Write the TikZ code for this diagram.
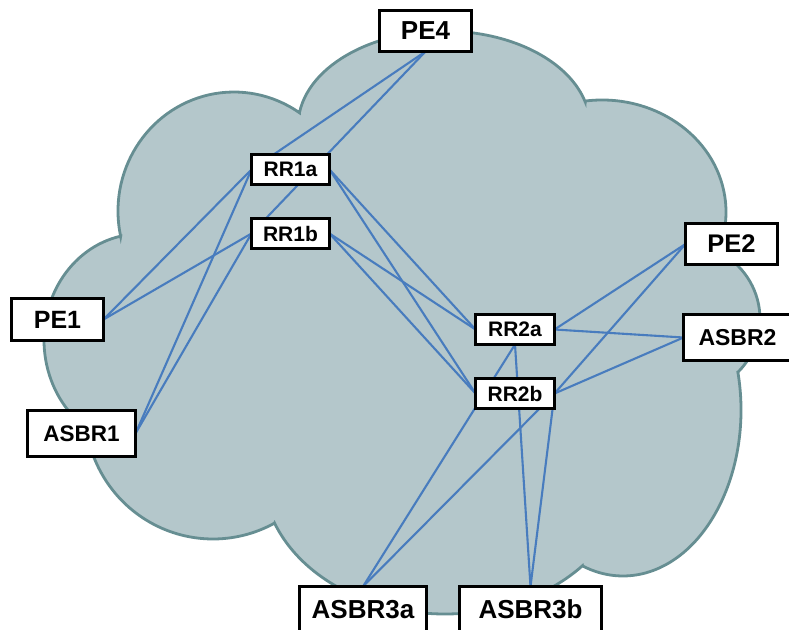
\documentclass[tikz,border=0pt]{standalone}
\usepackage{fontspec}
\setmainfont{Liberation Sans}
\usetikzlibrary{calc}
\pgfdeclarelayer{bg}
\pgfdeclarelayer{mid}
\pgfsetlayers{bg,mid,main}
\definecolor{cloudfill}{RGB}{180,199,203}
\definecolor{cloudline}{RGB}{102,142,146}
\definecolor{linkblue}{RGB}{72,124,190}
\tikzset{
  box/.style={draw=black, line width=2.7pt, fill=white, inner sep=0pt, outer sep=0pt},
  fs/.style={font=\bfseries\fontsize{#1}{#1}\selectfont},
  link/.style={draw=linkblue, line width=2.1pt},
  cloudshape/.style={fill=cloudfill, draw=cloudline, line width=2.8pt, line join=miter},
}
\begin{document}
\begin{tikzpicture}[x=1pt, y=-1pt]
\useasboundingbox (0,0) rectangle (789,629);

% nodes
\node[box, fs=26, minimum width=92pt, minimum height=41pt] (PE4) at (425.5,31) {PE4};
\node[box, fs=21, minimum width=78pt, minimum height=30pt] (RR1a) at (290.5,169.5) {RR1a};
\node[box, fs=21, minimum width=78pt, minimum height=30pt] (RR1b) at (290.5,233.5) {RR1b};
\node[box, fs=25.5, minimum width=92pt, minimum height=41pt] (PE2) at (731.5,244) {PE2};
\node[box, fs=25, minimum width=92pt, minimum height=42pt] (PE1) at (57.5,319.5) {PE1};
\node[box, fs=21, minimum width=79pt, minimum height=30pt] (RR2a) at (515,329.5) {RR2a};
\node[box, fs=23, minimum width=108pt, minimum height=46pt] (ASBR2) at (737.5,337.5) {ASBR2};
\node[box, fs=21, minimum width=79pt, minimum height=30pt] (RR2b) at (515,393.5) {RR2b};
\node[box, fs=22.5, minimum width=108pt, minimum height=46pt] (ASBR1) at (81.5,433.5) {ASBR1};
\node[box, fs=26, minimum width=127pt, minimum height=46pt] (ASBR3a) at (363,609.5) {ASBR3a};
\node[box, fs=26, minimum width=142pt, minimum height=46pt] (ASBR3b) at (530.5,609.5) {ASBR3b};

% cloud
\begin{pgfonlayer}{bg}
\path[cloudshape]
  ($(234,211)+(192.3:116pt and 119pt)$) arc[start angle=192.3, end angle=55.6, x radius=116pt, y radius=119pt]
  -- ($(444,126)+(171.5:146pt and 95pt)$) arc[start angle=171.5, end angle=14.8, x radius=146pt, y radius=95pt]
  -- ($(602,212)+(97.8:124pt and 112pt)$) arc[start angle=97.8, end angle=-20.9, x radius=124pt, y radius=112pt]
  -- ($(685,319)+(63.8:75pt)$) arc[start angle=63.8, end angle=-45, radius=75pt]
  -- ($(623,410)+(13.2:118pt and 166pt)$) arc[start angle=13.2, end angle=-110, x radius=118pt, y radius=166pt]
  -- ($(445,474)+(-40.9:182pt and 140pt)$) arc[start angle=-40.9, end angle=-159.5, x radius=182pt, y radius=140pt]
  -- ($(213,410)+(-61.3:128pt and 129pt)$) arc[start angle=-61.3, end angle=-172, x radius=128pt, y radius=129pt]
  -- ($(140,340)+(-124:96pt and 106pt)$) arc[start angle=-124, end angle=-258.4, x radius=96pt, y radius=106pt]
  -- cycle;
\end{pgfonlayer}

% connectors
\begin{pgfonlayer}{mid}
\draw[link] (PE4.south) -- (RR1a.west);
\draw[link] (PE4.south) -- (RR1b.west);
\draw[link] (PE1.east) -- (RR1a.west);
\draw[link] (PE1.east) -- (RR1b.west);
\draw[link] (ASBR1.east) -- (RR1a.west);
\draw[link] (ASBR1.east) -- (RR1b.west);
\draw[link] (RR1a.east) -- (RR2a.west);
\draw[link] (RR1a.east) -- (RR2b.west);
\draw[link] (RR1b.east) -- (RR2a.west);
\draw[link] (RR1b.east) -- (RR2b.west);
\draw[link] (PE2.west) -- (RR2a.east);
\draw[link] (PE2.west) -- (RR2b.east);
\draw[link] (ASBR2.west) -- (RR2a.east);
\draw[link] (ASBR2.west) -- (RR2b.east);
\draw[link] (RR2a.south) -- (ASBR3a.north);
\draw[link] (RR2a.south) -- (ASBR3b.north);
\draw[link] (RR2b.east) -- (ASBR3a.north);
\draw[link] (RR2b.east) -- (ASBR3b.north);
\end{pgfonlayer}
\end{tikzpicture}
\end{document}
